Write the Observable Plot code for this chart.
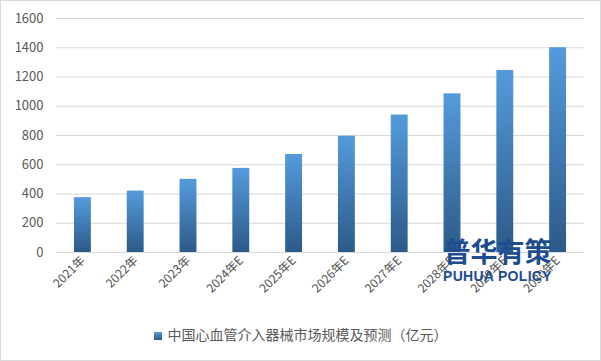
<!DOCTYPE html>
<html><head><meta charset="utf-8">
<script src="https://cdn.jsdelivr.net/npm/d3@7"></script>
<script src="https://cdn.jsdelivr.net/npm/@observablehq/plot@0.6"></script>
<style>
body{margin:0;background:#fff;}
#wrap{position:relative;width:599px;height:359px;border:1px solid #d9d9d9;overflow:hidden;font-family:"Noto Sans CJK SC","Noto Sans",sans-serif;}
#legend{position:absolute;left:0;width:599px;top:323px;text-align:center;font-size:14px;color:#595959;}
#legend span.sw{display:inline-block;width:8px;height:8px;background:linear-gradient(#5b9bd5,#2e5c8a);margin-right:6px;vertical-align:0px;}
#wm{position:absolute;left:442px;top:236px;color:#1d4c8f;text-align:center;font-weight:bold;line-height:1;}
#wm .cn{font-size:27px;letter-spacing:0px;}
#wm .en{font-size:14px;font-family:"Liberation Sans",Arial,sans-serif;margin-top:5px;letter-spacing:0.3px;}
</style></head><body>
<div id="wrap"><div id="chart"></div>
<div id="wm"><div class="cn">普华有策</div><div class="en">PUHUA POLICY</div></div>
<div id="legend"><span class="sw"></span>中国心血管介入器械市场规模及预测（亿元）</div>
</div>
<script>
const years = ["2021年","2022年","2023年","2024年E","2025年E","2026年E","2027年E","2028年E","2029年E","2030年E"];
const values = [375, 420, 500, 575, 670, 795, 940, 1085, 1245, 1400];
const yTicks = [0,200,400,600,800,1000,1200,1400,1600];
const data = years.map((y,i)=>({year:y, value:values[i]}));
const chart = Plot.plot({
  width: 599, height: 318,
  marginLeft: 55, marginRight: 16, marginTop: 17, marginBottom: 67,
  style:{fontFamily:'"Noto Sans CJK SC","Noto Sans",sans-serif', fontSize:"12px", color:"#595959", background:"#fff"},
  x:{domain:years, paddingInner:0.68, paddingOuter:0.34, round:false, label:null, tickSize:0, tickRotate:-45, tickPadding:6},
  y:{domain:[0,1600], ticks:yTicks, tickFormat:d=>String(d), label:null, tickSize:0, tickPadding:13},
  marks:[
    Plot.gridY(yTicks,{stroke:"#d9d9d9", strokeOpacity:1}),
    Plot.barY(data,{x:"year", y:"value", fill:"url(#bargrad)"})
  ]
});
const svg = d3.select(chart);
const defs = svg.insert("defs",":first-child");
const g = defs.append("linearGradient").attr("id","bargrad").attr("x1",0).attr("y1",0).attr("x2",0).attr("y2",1);
g.append("stop").attr("offset","0%").attr("stop-color","#549bdc");
g.append("stop").attr("offset","100%").attr("stop-color","#2c5a88");
svg.selectAll("g[aria-label='x-axis tick label'] text").style("font-size","12px").style("fill","#505050");
svg.selectAll("g[aria-label='y-axis tick label'] text").style("font-size","13px");
document.getElementById("chart").appendChild(chart);
</script>
</body></html>
